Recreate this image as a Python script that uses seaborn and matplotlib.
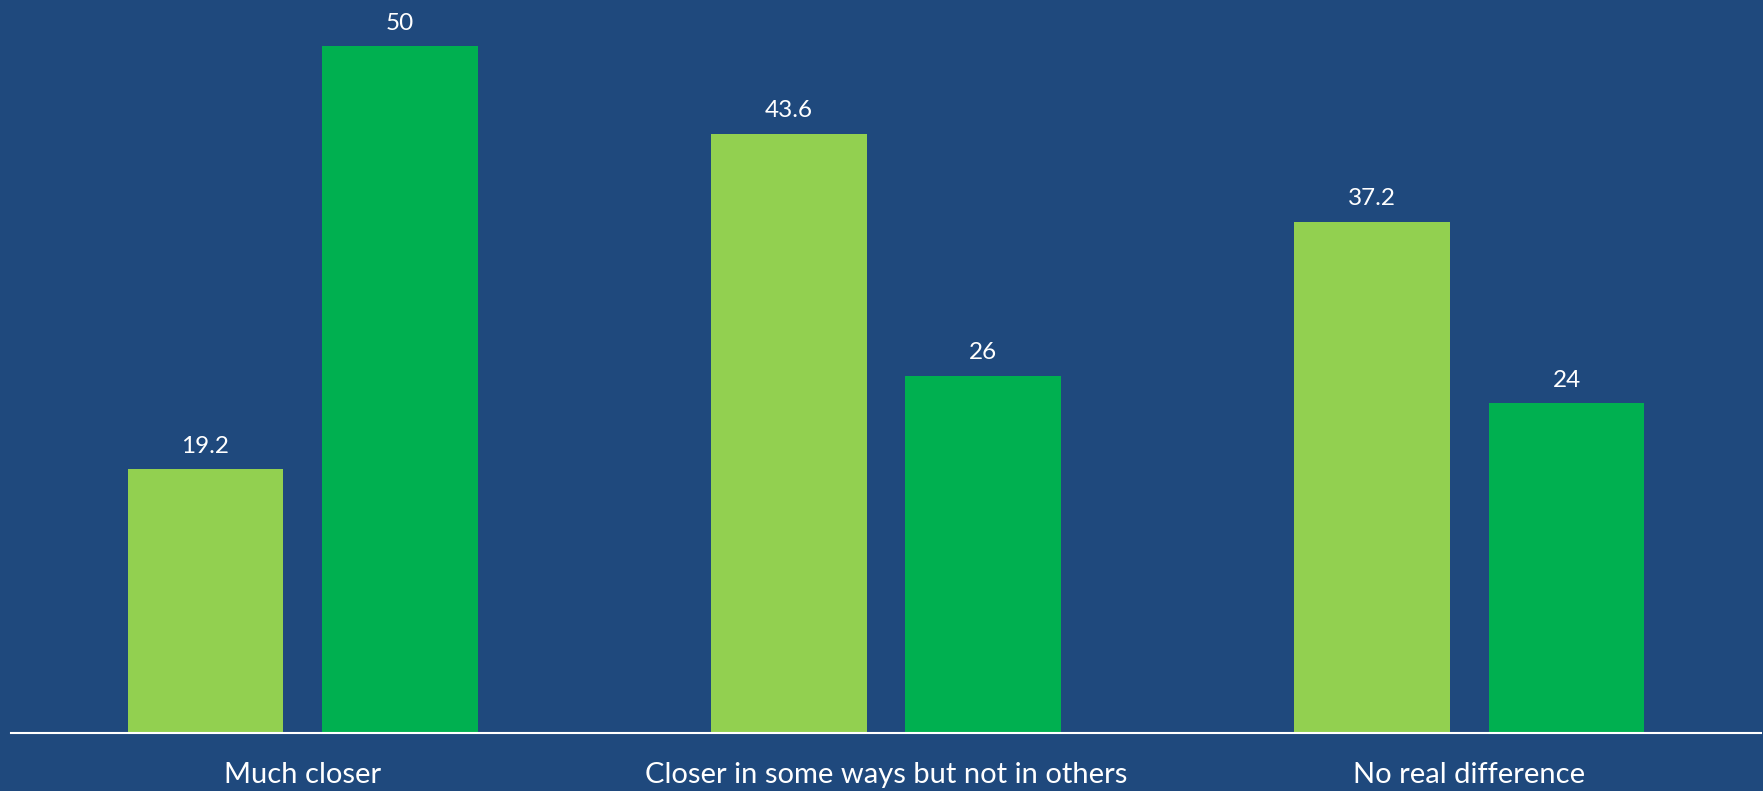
import pandas as pd
import matplotlib.pyplot as plt
import seaborn as sns

# values
categories = ["Much closer", "Closer in some ways but not in others", "No real difference"]
series_names = ["Series 1", "Series 2"]
series_1 = [19.2, 43.6, 37.2]
series_2 = [50, 26, 24]

bg = "#1F497D"
colors = ["#92D050", "#00B050"]

df = pd.DataFrame({
    "category": categories * 2,
    "series": [series_names[0]] * 3 + [series_names[1]] * 3,
    "value": series_1 + series_2,
})

sns.set_style("white")
plt.rcParams["font.family"] = ["Lato", "DejaVu Sans"]

fig = plt.figure(figsize=(17.63, 7.91), dpi=100, facecolor=bg)
ax = fig.add_axes([11 / 1763, 58 / 791, 1750 / 1763, 733 / 791])
ax.set_facecolor(bg)

sns.barplot(data=df, x="category", y="value", hue="series", order=categories,
            hue_order=series_names, palette=colors, width=0.667, gap=0.2,
            saturation=1, linewidth=0, legend=False, ax=ax)

for container in ax.containers:
    ax.bar_label(container, fmt="{:g}", padding=9, color="white", fontsize=17.5)

ax.set_xlim(-0.5, 2.5)
ax.set_ylim(0, 53.35)
ax.set_xlabel("")
ax.set_ylabel("")
ax.set_yticks([])
ax.tick_params(axis="x", length=0, pad=21, colors="white", labelsize=21)

for side in ["top", "left", "right"]:
    ax.spines[side].set_visible(False)
ax.spines["bottom"].set_color("white")
ax.spines["bottom"].set_linewidth(1.5)

fig.savefig("out.png", dpi=100, facecolor=bg)
